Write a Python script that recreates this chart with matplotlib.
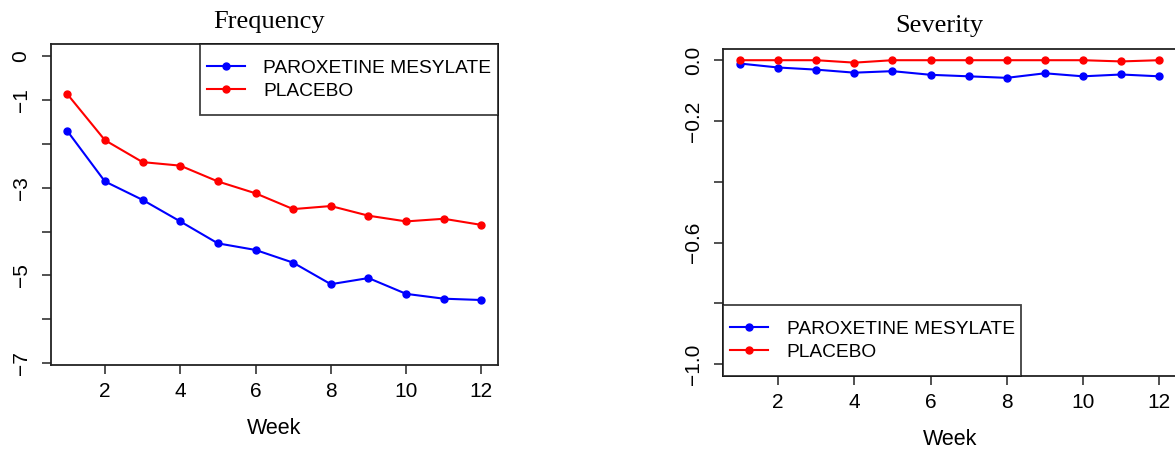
import numpy as np
import matplotlib
matplotlib.use("Agg")
import matplotlib.pyplot as plt
from matplotlib.path import Path

# values
weeks = list(range(1, 13))
freq_paroxetine = [-1.71, -2.86, -3.28, -3.77, -4.27, -4.42, -4.71, -5.20, -5.06, -5.42, -5.53, -5.56]
freq_placebo = [-0.87, -1.92, -2.42, -2.50, -2.86, -3.13, -3.49, -3.42, -3.64, -3.77, -3.71, -3.85]
sev_paroxetine = [-0.011, -0.024, -0.031, -0.041, -0.036, -0.048, -0.053, -0.058, -0.043, -0.053, -0.047, -0.053]
sev_placebo = [0.0, 0.0, 0.0, -0.008, 0.0, 0.0, 0.0, 0.0, 0.0, 0.0, -0.004, 0.0]

series_names = ["PAROXETINE MESYLATE", "PLACEBO"]
series_colors = ["#0000ff", "#ff0000"]

freq_ticks = [0, -1, -2, -3, -4, -5, -6, -7]
freq_ticklabels = ["0", "\u22121", "", "\u22123", "", "\u22125", "", "\u22127"]
sev_ticks = [0.0, -0.2, -0.4, -0.6, -0.8, -1.0]
sev_ticklabels = ["0.0", "\u22120.2", "", "\u22120.6", "", "\u22121.0"]
xticks = [2, 4, 6, 8, 10, 12]

plt.rcParams["font.family"] = ["Liberation Sans", "DejaVu Sans"]

W, H = 1175, 453
DPI = 100
LEG_FS = 13.8
LEG_EXTRA = 0.45  # extra vertical padding of the legend box, in font sizes

fig = plt.figure(figsize=(W / DPI, H / DPI), dpi=DPI)


def px_axes(left, top, right, bottom):
    return fig.add_axes([left / W, 1 - bottom / H, (right - left) / W, (bottom - top) / H])


def tall_frame(x0, y0, width, height, mutation_size):
    # square box, but taller than the legend contents (as R draws it)
    e = LEG_EXTRA * mutation_size
    return Path([(x0, y0 - e), (x0 + width, y0 - e), (x0 + width, y0 + height + e),
                 (x0, y0 + height + e), (x0, y0 - e)], closed=True)


def style(ax, yticks, ylabels):
    for s in ax.spines.values():
        s.set_linewidth(1.3)
        s.set_color("#222222")
    ax.set_xticks(xticks)
    ax.set_yticks(yticks)
    ax.set_yticklabels(ylabels, rotation=90, va="center")
    ax.tick_params(axis="both", length=6.5, width=1.1, color="#222222", labelsize=15)
    ax.tick_params(axis="x", pad=6)
    ax.tick_params(axis="y", pad=8)
    ax.set_xlabel("Week", fontsize=15.5, labelpad=12)


def draw(ax, a, b):
    for vals, name, col in zip([a, b], series_names, series_colors):
        ax.plot(weeks, vals, color=col, lw=1.5, marker="o", ms=5, label=name)


def add_legend(ax, loc, anchor_x, top):
    ax_h = ax.get_position().height * H
    dy = LEG_EXTRA * LEG_FS * DPI / 72 / ax_h
    anchor_y = 1 - dy if top else dy
    leg = ax.legend(loc=loc, bbox_to_anchor=(anchor_x, anchor_y), borderaxespad=0,
                    fancybox=False, fontsize=LEG_FS, handlelength=2.0, handletextpad=0.95,
                    borderpad=0.35, labelspacing=0.28)
    frame = leg.get_frame()
    frame.set_boxstyle(tall_frame)
    frame.set_edgecolor("#111111")
    frame.set_linewidth(1.3)
    return leg


ax1 = px_axes(50.7, 44, 498, 365)
draw(ax1, freq_paroxetine, freq_placebo)
ax1.set_xlim(0.56, 12.44)
ax1.set_ylim(-7.04, 0.27)
style(ax1, freq_ticks, freq_ticklabels)
ax1.set_title("Frequency", family="Liberation Serif", fontsize=19, pad=11.5, x=0.487)
add_legend(ax1, "upper right", 1, True)

ax2 = px_axes(723.3, 48.5, 1176, 376)
draw(ax2, sev_paroxetine, sev_placebo)
ax2.set_xlim(0.56, 12.44)
ax2.set_ylim(-1.0385, 0.0385)
style(ax2, sev_ticks, sev_ticklabels)
ax2.set_title("Severity", family="Liberation Serif", fontsize=19, pad=12, x=0.478)
add_legend(ax2, "lower left", 0, False)

fig.savefig("out.png", dpi=DPI)
